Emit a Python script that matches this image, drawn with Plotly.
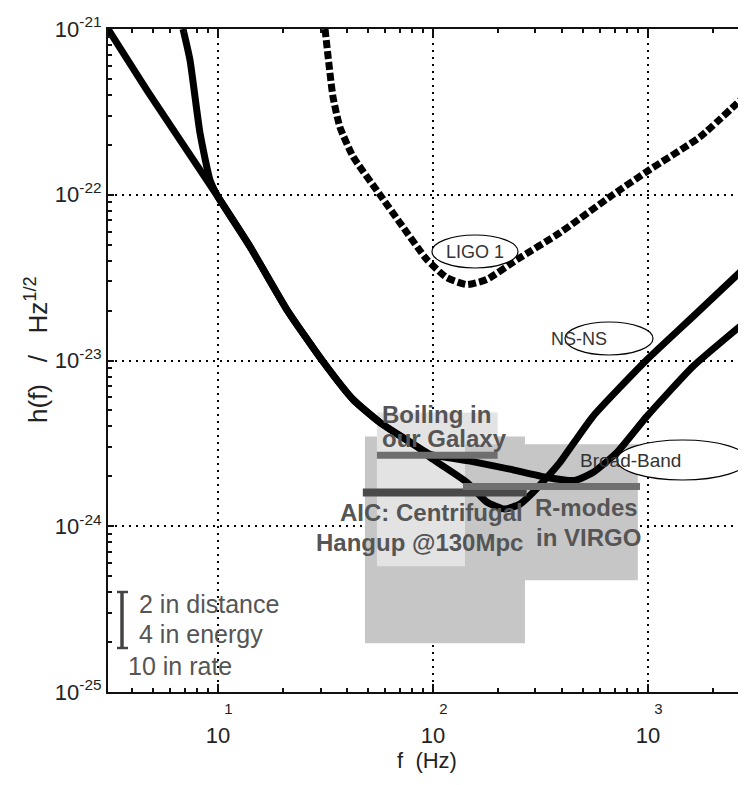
import plotly.graph_objects as go

# ---------------- data ----------------
# Broad-band advanced interferometer noise curve
bb_f = [3.08, 4.83, 10, 14.1, 20.9, 30.8, 42.5, 56.7, 84.2, 96.8, 149, 228, 339, 458, 555, 718, 989, 1620, 2857]
bb_h = [1e-21, 4.0e-22, 9.73e-23, 4.86e-23, 2.03e-23, 9.86e-24, 5.82e-24, 4.23e-24, 3.03e-24, 2.72e-24,
        2.47e-24, 2.21e-24, 1.97e-24, 1.89e-24, 2.11e-24, 2.79e-24, 4.60e-24, 9.20e-24, 1.72e-23]

# NS-NS optimised noise curve
ns_f = [6.88, 7.41, 8.25, 9.18, 10, 14.1, 20.9, 30.8, 42.5, 56.7, 84.2, 96.8, 144, 178, 216, 254, 292, 339,
        390, 555, 989, 1620, 2857]
ns_h = [1e-21, 6.51e-22, 2.36e-22, 1.23e-22, 9.73e-23, 4.86e-23, 2.03e-23, 9.86e-24, 5.82e-24, 4.23e-24,
        3.03e-24, 2.61e-24, 1.84e-24, 1.40e-24, 1.27e-24, 1.36e-24, 1.60e-24, 1.97e-24,
        2.43e-24, 4.60e-24, 1.01e-23, 1.84e-23, 3.68e-23]

# LIGO 1 noise curve
ligo_f = [31.5, 34.3, 36.9, 42.5, 56.7, 70.2, 93.8, 116, 144, 178, 246, 390, 687, 1022, 1745, 2857]
ligo_h = [1e-21, 3.89e-22, 2.57e-22, 1.70e-22, 1.0e-22, 6.78e-23, 4.06e-23, 3.16e-23, 2.87e-23, 3.08e-23,
          4.06e-23, 5.90e-23, 1.0e-22, 1.42e-22, 2.23e-22, 4.0e-22]

# Source regions (boxes)
box_names = ["AIC: Centrifugal Hangup", "Boiling in our Galaxy", "R-modes in VIRGO"]
box_f_low = [48.3, 54.9, 141]
box_f_high = [268, 200, 898]
box_h_low = [1.97e-25, 5.74e-25, 4.73e-25]
box_h_high = [3.48e-24, 4.86e-24, 3.12e-24]

# Source central estimates (bars)
bar_names = ["AIC: Centrifugal Hangup", "Boiling in our Galaxy", "R-modes in VIRGO"]
bar_f_low = [47.2, 54.9, 138]
bar_f_high = [273, 200, 919]
bar_h = [1.60e-24, 2.68e-24, 1.74e-24]

x_tick_vals = [10, 100, 1000]
x_tick_exps = ["1", "2", "3"]
y_tick_vals = [1e-25, 1e-24, 1e-23, 1e-22, 1e-21]
y_tick_exps = ["-25", "-24", "-23", "-22", "-21"]

# ---------------- styling ----------------
FONT = "Liberation Sans, Arial, Helvetica"
box_colors = ["#c6c6c6", "#e3e3e3", "#c6c6c6"]
bar_colors = ["#4a4a4a", "#6e6e6e", "#707070"]
bar_widths = [8, 7, 7]

fig = go.Figure()

for i in range(len(box_names)):
    fig.add_trace(go.Scatter(
        x=[box_f_low[i], box_f_high[i], box_f_high[i], box_f_low[i], box_f_low[i]],
        y=[box_h_low[i], box_h_low[i], box_h_high[i], box_h_high[i], box_h_low[i]],
        mode="lines", fill="toself", fillcolor=box_colors[i],
        line=dict(width=0, color=box_colors[i]), hoverinfo="skip", showlegend=False))

fig.add_trace(go.Scatter(x=bb_f, y=bb_h, mode="lines", name="Broad-Band",
                         line=dict(color="black", width=7, shape="spline", smoothing=0.5),
                         showlegend=False))
fig.add_trace(go.Scatter(x=ns_f, y=ns_h, mode="lines", name="NS-NS",
                         line=dict(color="black", width=7, shape="spline", smoothing=0.5),
                         showlegend=False))
fig.add_trace(go.Scatter(x=ligo_f, y=ligo_h, mode="lines", name="LIGO 1",
                         line=dict(color="black", width=7, dash="8px,3px", shape="spline", smoothing=0.5),
                         showlegend=False))

for i in range(len(bar_names)):
    fig.add_trace(go.Scatter(
        x=[bar_f_low[i], bar_f_high[i]], y=[bar_h[i], bar_h[i]], mode="lines",
        line=dict(color=bar_colors[i], width=bar_widths[i]), hoverinfo="skip", showlegend=False))

# ---------------- annotations & shapes ----------------
def px(x):
    return (x - 108) / 638

def py(y):
    return (692 - y) / 663

shapes = []
ellipses = [("LIGO 1", 432, 518, 235, 268, 18), ("NS-NS", 565, 653, 322, 355, 18),
            ("Broad-Band", 617, 748, 440, 480, 19)]
annotations = []
for label, x0, x1, y0, y1, fs in ellipses:
    shapes.append(dict(type="circle", xref="paper", yref="paper", x0=px(x0), x1=px(x1),
                       y0=py(y1), y1=py(y0), line=dict(color="black", width=1.2), fillcolor="white",
                       layer="above"))
    annotations.append(dict(text=label, xref="paper", yref="paper", x=px((x0 + x1) / 2),
                            y=py((y0 + y1) / 2), showarrow=False,
                            font=dict(family=FONT, size=fs, color="#333333")))

# scale bar
shapes += [
    dict(type="line", xref="paper", yref="paper", x0=px(122), x1=px(122), y0=py(592), y1=py(648),
         line=dict(color="#444444", width=3.5)),
    dict(type="line", xref="paper", yref="paper", x0=px(117), x1=px(128), y0=py(592), y1=py(592),
         line=dict(color="#444444", width=2.5)),
    dict(type="line", xref="paper", yref="paper", x0=px(117), x1=px(128), y0=py(648), y1=py(648),
         line=dict(color="#444444", width=2.5)),
]

region_font = dict(family=FONT, size=24, color="#555555")
region_lines = [
    ("<b>Boiling in</b>", 380, 415, "left"),
    ("<b>our Galaxy</b>", 380, 438, "left"),
    ("<b>AIC: Centrifugal</b>", 525, 512, "right"),
    ("<b>Hangup @130Mpc</b>", 525, 542, "right"),
    ("<b>R-modes</b>", 586, 507, "center"),
    ("<b>in VIRGO</b>", 588, 537, "center"),
]
for txt, x, y, anc in region_lines:
    annotations.append(dict(text=txt, xref="paper", yref="paper", x=px(x), y=py(y), xanchor=anc,
                            yanchor="middle", showarrow=False, font=region_font))

legend_font = dict(family=FONT, size=25, color="#555555")
annotations += [
    dict(text="2 in distance", xref="paper", yref="paper", x=px(137), y=py(604), xanchor="left",
         yanchor="middle", showarrow=False, font=legend_font),
    dict(text="4 in energy", xref="paper", yref="paper", x=px(137), y=py(634), xanchor="left",
         yanchor="middle", showarrow=False, font=legend_font),
    dict(text="10 in rate", xref="paper", yref="paper", x=px(126), y=py(666), xanchor="left",
         yanchor="middle", showarrow=False, font=legend_font),
]

x_minor = [m * d for d in (1, 10, 100, 1000) for m in range(2, 10)]
y_minor = [m * d for d in (1e-25, 1e-24, 1e-23, 1e-22) for m in range(2, 10)]

# The page body has an 8px default margin; size the figure so it fills the window exactly.
fig.update_layout(
    width=738, height=777,
    margin=dict(l=100, r=0, t=21, b=93, autoexpand=False),
    paper_bgcolor="white", plot_bgcolor="white",
    font=dict(family=FONT, color="#222222"),
    shapes=shapes, annotations=annotations,
    xaxis=dict(type="log", range=[0.4886, 3.4564], automargin=False,
               tickmode="array", tickvals=x_tick_vals,
               ticktext=["<span style='font-size:15px'>&nbsp;&nbsp;&nbsp;&nbsp;&nbsp;" + e + "</span><br>10"
                         for e in x_tick_exps],
               tickfont=dict(family=FONT, size=22, color="#222222"),
               ticks="inside", ticklen=8, tickwidth=1.5, tickcolor="#111111",
               ticklabelstandoff=-6,
               showline=True, linecolor="#111111", linewidth=2, mirror="ticks",
               showgrid=True, gridcolor="black", gridwidth=1.5, griddash="2px,5px",
               minor=dict(tickvals=x_minor, ticks="inside", ticklen=4, tickwidth=1.5,
                          tickcolor="#111111", showgrid=False),
               zeroline=False,
               title=dict(text="f  (Hz)", font=dict(family=FONT, size=22, color="#222222"), standoff=0)),
    yaxis=dict(type="log", range=[-25, -21], automargin=False,
               tickmode="array", tickvals=y_tick_vals,
               ticktext=["10<sup>" + e + "</sup>" for e in y_tick_exps],
               tickfont=dict(family=FONT, size=22, color="#222222"),
               ticks="inside", ticklen=6, tickwidth=1.5, tickcolor="#111111",
               showline=True, linecolor="#111111", linewidth=2,
               showgrid=True, gridcolor="black", gridwidth=1.5, griddash="2px,5px",
               minor=dict(tickvals=y_minor, ticks="inside", ticklen=4, tickwidth=1.5,
                          tickcolor="#111111", showgrid=False),
               zeroline=False,
               title=dict(text="&nbsp;&nbsp;&nbsp;h(f)   /   Hz<sup>1/2</sup>",
                          font=dict(family=FONT, size=26, color="#222222"), standoff=0)),
)

fig.write_html("out.html")
